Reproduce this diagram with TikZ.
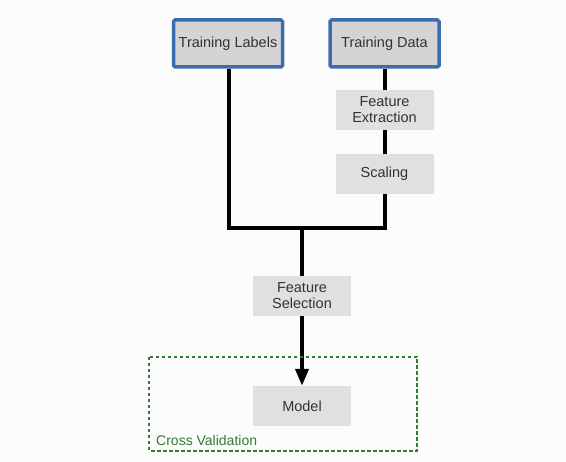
\documentclass[tikz,border=0pt]{standalone}
\usepackage{fontspec}
\setmainfont{Liberation Sans}
\usetikzlibrary{arrows.meta}
\definecolor{bg}{HTML}{FCFCFD}
\definecolor{boxgray}{HTML}{E0E0E0}
\definecolor{topgray}{HTML}{D4D4D4}
\definecolor{bordblue}{HTML}{3C6CB0}
\definecolor{cvgreen}{HTML}{2E7D32}
\definecolor{txt}{HTML}{333333}
\begin{document}
\begin{tikzpicture}[x=1pt,y=-1pt,
  topbox/.style={draw=bordblue,line width=3.5pt,rounded corners=1.5pt,fill=topgray,minimum width=109pt,minimum height=47pt,inner sep=0pt,font=\fontsize{14.5}{16}\selectfont,text=txt},
  stepbox/.style={fill=boxgray,minimum width=98pt,minimum height=40pt,inner sep=0pt,align=center,font=\fontsize{14.5}{16}\selectfont,text=txt},
  conn/.style={line width=4pt,black},
  arr/.style={conn,-{Triangle[length=17pt,width=13pt]}}]
\fill[bg] (0,0) rectangle (566,462);
\useasboundingbox (0,0) rectangle (566,462);
\node[topbox] (labels) at (228,43.5) {Training Labels};
\node[topbox] (data) at (384.5,43.5) {Training Data};
\node[stepbox] (fe) at (384.5,110) {Feature\\Extraction};
\node[stepbox] (sc) at (384.5,174) {Scaling};
\node[stepbox] (fs) at (302,296) {Feature\\Selection};
\node[stepbox] (model) at (302,406) {Model};
\coordinate (j) at (302,228);
\draw[conn] (data) -- (fe);
\draw[conn] (fe) -- (sc);
\draw[conn] (labels.south -| 229,0) |- (j);
\draw[conn] (sc.south) |- (j);
\draw[conn] (j) -- (fs.north);
\draw[arr] (fs.south) -- (model.north);
\draw[cvgreen,line width=1.5pt,dash pattern=on 3.5pt off 2.5pt] (149,357) rectangle (417,451);
\node[anchor=base west,text=cvgreen,font=\fontsize{14}{16}\selectfont,inner sep=0pt] (cv) at (156,446) {Cross Validation};
\end{tikzpicture}
\end{document}
